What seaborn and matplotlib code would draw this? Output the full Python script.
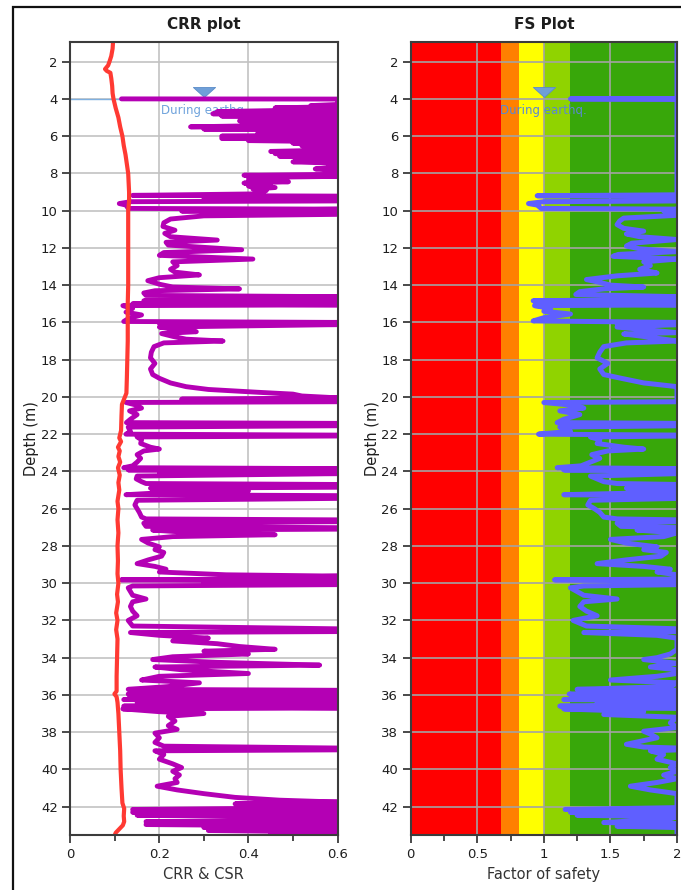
import numpy as np
import matplotlib
matplotlib.use("Agg")
import matplotlib.pyplot as plt
from matplotlib.patches import Rectangle
from matplotlib.path import Path
import seaborn as sns

# ---------------- data ----------------
# Cyclic resistance ratio (CRR) profile
crr_depth = [4.00, 4.01, 4.30, 4.36, 4.42, 4.48, 4.54, 4.62, 4.68, 4.74,
             4.80, 4.86, 4.92, 4.98, 5.06, 5.12, 5.18, 5.24, 5.30, 5.36,
             5.44, 5.50, 5.56, 5.62, 5.68, 5.76, 5.82, 5.88, 5.94, 6.00,
             6.06, 6.12, 6.18, 6.24, 6.30, 6.38, 6.44, 6.52, 6.58, 6.66,
             6.74, 6.82, 6.88, 6.94, 7.00, 7.08, 7.14, 7.22, 7.30, 7.38,
             7.46, 7.56, 7.66, 7.76, 7.86, 7.95, 8.05, 8.10, 8.16, 8.22,
             8.30, 8.38, 8.45, 8.52, 8.60, 8.68, 8.76, 8.84, 8.92, 9.02,
             9.10, 9.18, 9.22, 9.30, 9.34, 9.40, 9.48, 9.52, 9.62, 9.70,
             9.88, 9.92, 10.02, 10.08, 10.20, 10.28, 10.45, 10.65, 10.85, 11.05,
             11.22, 11.40, 11.58, 11.70, 11.85, 12.10, 12.25, 12.40, 12.60, 12.75,
             12.95, 13.15, 13.30, 13.45, 13.60, 13.76, 13.95, 14.10, 14.20, 14.30,
             14.42, 14.55, 14.62, 14.70, 14.76, 14.84, 14.92, 15.00, 15.06, 15.10,
             15.25, 15.45, 15.60, 15.80, 15.95, 16.00, 16.06, 16.12, 16.25, 16.40,
             16.50, 16.60, 16.75, 16.90, 17.00, 17.10, 17.30, 17.60, 17.90, 18.20,
             18.50, 18.80, 19.00, 19.25, 19.45, 19.60, 19.75, 19.85, 19.95, 20.05,
             20.12, 20.18, 20.26, 20.30, 20.45, 20.60, 20.75, 20.95, 21.20, 21.38,
             21.42, 21.55, 21.62, 21.85, 22.00, 22.05, 22.10, 22.15, 22.30, 22.50,
             22.70, 22.80, 22.90, 23.10, 23.30, 23.50, 23.70, 23.80, 23.85, 23.92,
             24.00, 24.06, 24.12, 24.25, 24.40, 24.55, 24.65, 24.70, 24.85, 24.90,
             25.00, 25.05, 25.15, 25.25, 25.30, 25.45, 25.55, 25.80, 26.00, 26.20,
             26.45, 26.55, 26.60, 26.70, 26.78, 26.95, 27.02, 27.10, 27.15, 27.30,
             27.40, 27.50, 27.65, 27.85, 28.05, 28.20, 28.35, 28.55, 28.75, 28.95,
             29.10, 29.25, 29.40, 29.55, 29.62, 29.70, 29.76, 29.82, 29.90, 29.96,
             30.02, 30.08, 30.15, 30.25, 30.45, 30.65, 30.85, 31.00, 31.25, 31.50,
             31.75, 32.00, 32.30, 32.45, 32.60, 32.65, 32.80, 32.95, 33.10, 33.25,
             33.40, 33.55, 33.65, 33.80, 33.95, 34.10, 34.25, 34.40, 34.50, 34.65,
             34.85, 35.00, 35.20, 35.35, 35.55, 35.70, 35.75, 35.90, 35.95, 36.10,
             36.15, 36.25, 36.30, 36.40, 36.50, 36.60, 36.70, 36.75, 36.90, 37.00,
             37.15, 37.40, 37.65, 37.85, 38.05, 38.30, 38.55, 38.75, 38.85, 38.95,
             39.00, 39.20, 39.45, 39.70, 39.90, 40.10, 40.30, 40.50, 40.70, 40.90,
             41.10, 41.30, 41.50, 41.65, 41.75, 41.85, 41.95, 42.05, 42.15, 42.22,
             42.30, 42.38, 42.46, 42.54, 42.62, 42.70, 42.80, 42.88, 42.96, 43.04,
             43.12, 43.20, 43.28, 43.36, 43.44, 43.50]
crr_value = [0.115, 0.60, 0.60, 0.54, 0.60, 0.46, 0.60, 0.48, 0.33, 0.60,
             0.32, 0.60, 0.34, 0.60, 0.45, 0.60, 0.38, 0.60, 0.40, 0.60,
             0.42, 0.27, 0.60, 0.30, 0.60, 0.46, 0.60, 0.42, 0.55, 0.34,
             0.60, 0.34, 0.60, 0.40, 0.60, 0.50, 0.60, 0.52, 0.60, 0.55,
             0.60, 0.45, 0.60, 0.46, 0.60, 0.47, 0.60, 0.52, 0.60, 0.50,
             0.60, 0.58, 0.60, 0.55, 0.60, 0.59, 0.60, 0.39, 0.60, 0.40,
             0.47, 0.40, 0.49, 0.39, 0.45, 0.40, 0.46, 0.41, 0.44, 0.43,
             0.42, 0.14, 0.60, 0.60, 0.30, 0.60, 0.60, 0.135, 0.110, 0.125,
             0.130, 0.60, 0.25, 0.60, 0.60, 0.30, 0.225, 0.210, 0.208, 0.235,
             0.212, 0.225, 0.330, 0.215, 0.220, 0.385, 0.210, 0.200, 0.410, 0.230,
             0.240, 0.225, 0.235, 0.290, 0.200, 0.174, 0.200, 0.230, 0.380, 0.190,
             0.165, 0.170, 0.60, 0.25, 0.60, 0.165, 0.60, 0.14, 0.60, 0.118,
             0.140, 0.125, 0.160, 0.130, 0.120, 0.60, 0.20, 0.60, 0.200, 0.240,
             0.283, 0.205, 0.230, 0.260, 0.343, 0.210, 0.188, 0.182, 0.180, 0.190,
             0.180, 0.185, 0.200, 0.225, 0.260, 0.310, 0.420, 0.500, 0.520, 0.60,
             0.25, 0.60, 0.60, 0.125, 0.150, 0.160, 0.133, 0.150, 0.135, 0.126,
             0.60, 0.60, 0.130, 0.135, 0.125, 0.60, 0.60, 0.150, 0.160, 0.158,
             0.180, 0.200, 0.165, 0.150, 0.158, 0.150, 0.140, 0.120, 0.60, 0.13,
             0.60, 0.20, 0.60, 0.150, 0.148, 0.160, 0.170, 0.60, 0.60, 0.180,
             0.230, 0.400, 0.200, 0.125, 0.60, 0.60, 0.150, 0.145, 0.150, 0.155,
             0.160, 0.170, 0.60, 0.60, 0.165, 0.170, 0.60, 0.60, 0.185, 0.280,
             0.460, 0.230, 0.160, 0.175, 0.200, 0.190, 0.210, 0.205, 0.175, 0.150,
             0.190, 0.215, 0.200, 0.350, 0.60, 0.45, 0.60, 0.114, 0.60, 0.30,
             0.60, 0.60, 0.140, 0.130, 0.135, 0.140, 0.170, 0.140, 0.135, 0.140,
             0.150, 0.130, 0.140, 0.60, 0.60, 0.135, 0.200, 0.310, 0.230, 0.330,
             0.380, 0.460, 0.300, 0.400, 0.230, 0.185, 0.330, 0.560, 0.190, 0.250,
             0.400, 0.200, 0.160, 0.290, 0.220, 0.130, 0.60, 0.60, 0.130, 0.135,
             0.60, 0.12, 0.60, 0.15, 0.60, 0.12, 0.60, 0.118, 0.200, 0.300,
             0.220, 0.235, 0.220, 0.240, 0.190, 0.200, 0.190, 0.210, 0.60, 0.60,
             0.190, 0.210, 0.200, 0.230, 0.250, 0.230, 0.245, 0.235, 0.240, 0.195,
             0.240, 0.300, 0.370, 0.470, 0.60, 0.37, 0.60, 0.60, 0.14, 0.60,
             0.14, 0.60, 0.15, 0.60, 0.37, 0.60, 0.17, 0.60, 0.17, 0.60,
             0.30, 0.60, 0.31, 0.60, 0.45, 0.60]

# Cyclic stress ratio (CSR) profile
csr_depth = [0.93, 1.30, 1.70, 2.00, 2.20, 2.40, 2.50, 2.60, 2.90, 3.30, 3.70, 4.00, 4.50, 5.00,
             5.50, 6.00, 6.50, 7.00, 7.50, 8.00, 8.50, 9.00, 9.50, 10.00, 11.00, 12.00, 13.00,
             14.00, 15.00, 16.00, 17.00, 18.00, 19.00, 19.80, 20.10, 20.40, 21.00, 21.80, 22.20,
             22.40, 22.70, 22.90, 23.20, 23.50, 23.80, 24.20, 24.60, 25.00, 25.60, 26.00, 26.60,
             27.30, 28.00, 28.80, 29.50, 30.00, 30.60, 31.00, 31.60, 32.00, 32.50, 33.00, 34.00,
             35.00, 35.80, 35.95, 36.10, 36.40, 37.00, 38.00, 39.00, 40.00, 41.00, 41.80, 42.10,
             42.50, 42.80, 43.00, 43.20, 43.40, 43.52]
csr_value = [0.096, 0.095, 0.092, 0.088, 0.085, 0.078, 0.082, 0.090, 0.092, 0.094, 0.095, 0.097, 0.102, 0.108,
             0.112, 0.117, 0.120, 0.124, 0.127, 0.130, 0.131, 0.132, 0.132, 0.130, 0.130, 0.130, 0.130,
             0.130, 0.129, 0.129, 0.129, 0.128, 0.127, 0.126, 0.121, 0.116, 0.115, 0.114, 0.110,
             0.114, 0.107, 0.111, 0.108, 0.112, 0.107, 0.111, 0.108, 0.110, 0.106, 0.108, 0.106,
             0.108, 0.106, 0.107, 0.106, 0.108, 0.105, 0.107, 0.103, 0.106, 0.103, 0.106, 0.105,
             0.104, 0.104, 0.099, 0.104, 0.106, 0.108, 0.110, 0.112, 0.113, 0.115, 0.117, 0.121,
             0.120, 0.121, 0.118, 0.110, 0.102, 0.100]

# Factor of safety profile (capped at 2)
fs_depth = [0.93, 3.99, 4.00, 4.02, 9.15, 9.20, 9.24, 9.32, 9.36, 9.42,
            9.48, 9.52, 9.62, 9.70, 9.88, 9.92, 10.02, 10.08, 10.25, 10.40,
            10.55, 10.75, 10.95, 11.10, 11.25, 11.40, 11.55, 11.75, 11.90, 12.05,
            12.20, 12.35, 12.45, 12.60, 12.75, 12.95, 13.15, 13.35, 13.50, 13.70,
            13.85, 14.00, 14.10, 14.20, 14.35, 14.50, 14.62, 14.70, 14.76, 14.84,
            14.92, 15.00, 15.06, 15.10, 15.25, 15.40, 15.55, 15.75, 15.92, 16.00,
            16.06, 16.12, 16.25, 16.45, 16.55, 16.62, 16.80, 17.00, 17.10, 17.30,
            17.60, 17.90, 18.20, 18.50, 18.80, 19.00, 19.25, 19.45, 20.26, 20.30,
            20.45, 20.60, 20.75, 20.95, 21.20, 21.38, 21.42, 21.55, 21.62, 21.85,
            22.00, 22.05, 22.10, 22.15, 22.30, 22.50, 22.70, 22.80, 22.90, 23.10,
            23.30, 23.50, 23.70, 23.80, 23.85, 23.92, 24.00, 24.06, 24.12, 24.25,
            24.40, 24.55, 24.65, 24.70, 24.85, 24.90, 25.00, 25.10, 25.15, 25.25,
            25.30, 25.45, 25.55, 25.80, 26.00, 26.20, 26.45, 26.55, 26.60, 26.70,
            26.78, 26.95, 27.02, 27.10, 27.15, 27.30, 27.50, 27.65, 27.85, 28.05,
            28.20, 28.35, 28.55, 28.75, 28.95, 29.10, 29.25, 29.40, 29.55, 29.78,
            29.82, 29.90, 30.08, 30.15, 30.25, 30.45, 30.65, 30.85, 31.00, 31.25,
            31.50, 31.75, 32.00, 32.30, 32.45, 32.60, 32.65, 32.80, 32.95, 33.55,
            33.80, 34.00, 34.10, 34.30, 34.50, 34.65, 34.85, 35.00, 35.20, 35.35,
            35.55, 35.70, 35.75, 35.90, 35.95, 36.10, 36.15, 36.25, 36.30, 36.40,
            36.50, 36.60, 36.70, 36.75, 36.90, 37.05, 37.20, 37.50, 37.75, 37.95,
            38.10, 38.30, 38.50, 38.65, 38.80, 38.85, 38.95, 39.00, 39.20, 39.45,
            39.70, 39.90, 40.10, 40.30, 40.50, 40.70, 40.90, 41.10, 41.30, 42.05,
            42.15, 42.22, 42.30, 42.38, 42.46, 42.54, 42.65, 42.85, 42.92, 43.05,
            43.12, 43.50]
fs_value = [2.00, 2.00, 1.20, 2.00, 2.00, 0.95, 2.00, 2.00, 1.90, 2.00,
            2.00, 1.00, 0.885, 0.95, 0.98, 2.00, 1.90, 2.00, 2.00, 1.60,
            1.57, 1.55, 1.60, 1.75, 1.62, 1.72, 2.00, 1.66, 1.62, 1.72,
            2.00, 1.56, 1.52, 2.00, 1.75, 1.80, 1.72, 1.85, 1.55, 1.32,
            1.42, 1.50, 1.75, 1.45, 1.27, 1.24, 2.00, 1.90, 2.00, 0.92,
            2.00, 1.07, 2.00, 0.93, 1.05, 1.00, 1.20, 1.00, 0.92, 2.00,
            1.55, 2.00, 1.55, 1.85, 2.00, 1.60, 1.80, 2.00, 1.62, 1.45,
            1.42, 1.40, 1.48, 1.42, 1.45, 1.58, 1.75, 2.00, 2.00, 1.00,
            1.22, 1.30, 1.12, 1.27, 1.15, 1.10, 2.00, 2.00, 1.12, 1.20,
            0.96, 2.00, 2.00, 1.35, 1.42, 1.40, 1.60, 1.75, 1.48, 1.36,
            1.42, 1.35, 1.28, 1.10, 2.00, 1.15, 2.00, 1.80, 2.00, 1.35,
            1.40, 1.45, 1.55, 2.00, 2.00, 1.62, 1.80, 2.00, 1.78, 1.15,
            2.00, 2.00, 1.35, 1.33, 1.38, 1.42, 1.45, 1.55, 2.00, 2.00,
            1.55, 1.58, 2.00, 2.00, 1.70, 2.00, 1.90, 1.50, 1.62, 1.85,
            1.75, 1.92, 1.88, 1.62, 1.40, 1.75, 1.95, 1.85, 2.00, 2.00,
            1.08, 2.00, 2.00, 1.30, 1.20, 1.25, 1.30, 1.55, 1.30, 1.27,
            1.32, 1.40, 1.22, 1.32, 2.00, 2.00, 1.30, 1.85, 2.00, 2.00,
            1.95, 1.85, 1.75, 2.00, 1.80, 2.00, 2.00, 1.85, 1.50, 2.00,
            1.95, 1.25, 2.00, 2.00, 1.19, 1.30, 2.00, 1.15, 2.00, 1.40,
            2.00, 1.12, 2.00, 1.15, 1.75, 1.45, 2.00, 1.95, 2.00, 1.75,
            1.80, 1.85, 1.72, 1.62, 1.75, 2.00, 2.00, 1.80, 1.90, 1.85,
            2.00, 1.95, 2.00, 1.90, 2.00, 1.85, 1.65, 1.80, 2.00, 2.00,
            1.16, 2.00, 1.20, 2.00, 1.25, 2.00, 1.95, 1.45, 2.00, 1.55,
            2.00, 2.00]

# Factor of safety colour bands
fs_band_edges = [0.0, 0.68, 0.81, 1.0, 1.2, 2.0]
fs_band_colors = ["#ff0000", "#ff8000", "#ffff00", "#90d300", "#38a70a"]

water_depth = 4.0
water_label = "During earthq."
depth_ticks = list(range(2, 43, 2))
crr_ticks = [0, 0.2, 0.4, 0.6]
crr_tick_labels = ["0", "0.2", "0.4", "0.6"]
fs_ticks = [0, 0.5, 1, 1.5, 2]
fs_tick_labels = ["0", "0.5", "1", "1.5", "2"]

assert len(crr_depth) == len(crr_value)
assert len(csr_depth) == len(csr_value)
assert len(fs_depth) == len(fs_value)

# ---------------- styling ----------------
sns.set_style("ticks")
plt.rcParams["font.family"] = ["DejaVu Sans"]

W, H = 681, 890
fig = plt.figure(figsize=(W / 100, H / 100), dpi=100)

def fbox(x0, x1, ytop, ybot):
    return [x0 / W, 1 - ybot / H, (x1 - x0) / W, (ybot - ytop) / H]

ax1 = fig.add_axes(fbox(70.3, 337.5, 41.7, 835))
ax2 = fig.add_axes(fbox(410.7, 677.0, 41.7, 835))

# outer frame
fig.add_artist(Rectangle((13 / W, -0.1), 1.2, 1 - 7 / H + 0.1, transform=fig.transFigure,
                         fill=False, edgecolor="#111111", linewidth=1.6))

ylim = (43.52, 0.93)
spine_col = "#3c3c3c"
text_col = "#1e1e1e"

# flattened inverted triangle used as the water-table symbol
tri = Path([(-1, 0.45), (1, 0.45), (0, -0.45), (-1, 0.45)],
           [Path.MOVETO, Path.LINETO, Path.LINETO, Path.CLOSEPOLY])

def style_axis(ax, xmax, ticks, labels, minor, xlabel, title, grid_col):
    ax.set_xlim(0, xmax)
    ax.set_ylim(*ylim)
    ax.set_xticks(ticks)
    ax.set_xticklabels(labels)
    ax.set_xticks(minor, minor=True)
    ax.set_yticks(depth_ticks)
    ax.tick_params(axis="both", which="major", length=6, width=1.3, color=spine_col,
                   labelsize=9.5, labelcolor=text_col, pad=3)
    ax.tick_params(axis="x", which="minor", length=4, width=1.3, color=spine_col)
    ax.grid(True, which="major", color=grid_col, linewidth=1.2)
    ax.set_axisbelow(True)
    for s in ax.spines.values():
        s.set_color(spine_col)
        s.set_linewidth(1.5)
        s.set_visible(True)
        s.set_zorder(5)
    ax.set_xlabel(xlabel, fontsize=10.5, color="#333333", labelpad=5)
    ax.set_ylabel("Depth (m)", fontsize=10.5, color=text_col, labelpad=1)
    ax.set_title(title, fontsize=11, fontweight="bold", color=text_col, pad=9)

# ---------------- CRR panel ----------------
style_axis(ax1, 0.6, crr_ticks, crr_tick_labels, [0.1, 0.3, 0.5], "CRR & CSR", "CRR plot", "#c2c2c2")
ax1.axhline(water_depth, color="#7fb0e0", linewidth=1.0, zorder=1.2)
ax1.plot([0.3], [3.64], marker=tri, markersize=16, color="#6f9fd8",
         markeredgecolor="#5a8cc8", markeredgewidth=0.6, zorder=1.3, linestyle="none")
ax1.text(0.3, 4.62, water_label, ha="center", va="center", fontsize=8.5, color="#6fa3dc", zorder=1.3)

sns.lineplot(x=crr_value, y=crr_depth, sort=False, estimator=None, ax=ax1,
             color="#b400b4", linewidth=3.5, zorder=2)
sns.lineplot(x=csr_value, y=csr_depth, sort=False, estimator=None, ax=ax1,
             color="#ff3a33", linewidth=3.0, zorder=3)
for ln in ax1.lines:
    ln.set_solid_joinstyle("round")

# ---------------- FS panel ----------------
style_axis(ax2, 2.0, fs_ticks, fs_tick_labels, [0.25, 0.75, 1.25, 1.75], "Factor of safety", "FS Plot", "#a3a3a3")
for lo, hi, col in zip(fs_band_edges[:-1], fs_band_edges[1:], fs_band_colors):
    ax2.axvspan(lo, hi, color=col, zorder=0.2, linewidth=0)
ax2.plot([1.0], [3.64], marker=tri, markersize=16, color="#6f9fd8",
         markeredgecolor="#5a8cc8", markeredgewidth=0.6, zorder=4, linestyle="none")
ax2.text(1.0, 4.62, water_label, ha="center", va="center", fontsize=8.5, color="#5b86d6", zorder=4)

sns.lineplot(x=fs_value, y=fs_depth, sort=False, estimator=None, ax=ax2,
             color="#5f5fff", linewidth=3.6, zorder=3)
for ln in ax2.lines:
    ln.set_solid_joinstyle("round")

fig.savefig("out.png", dpi=100)
